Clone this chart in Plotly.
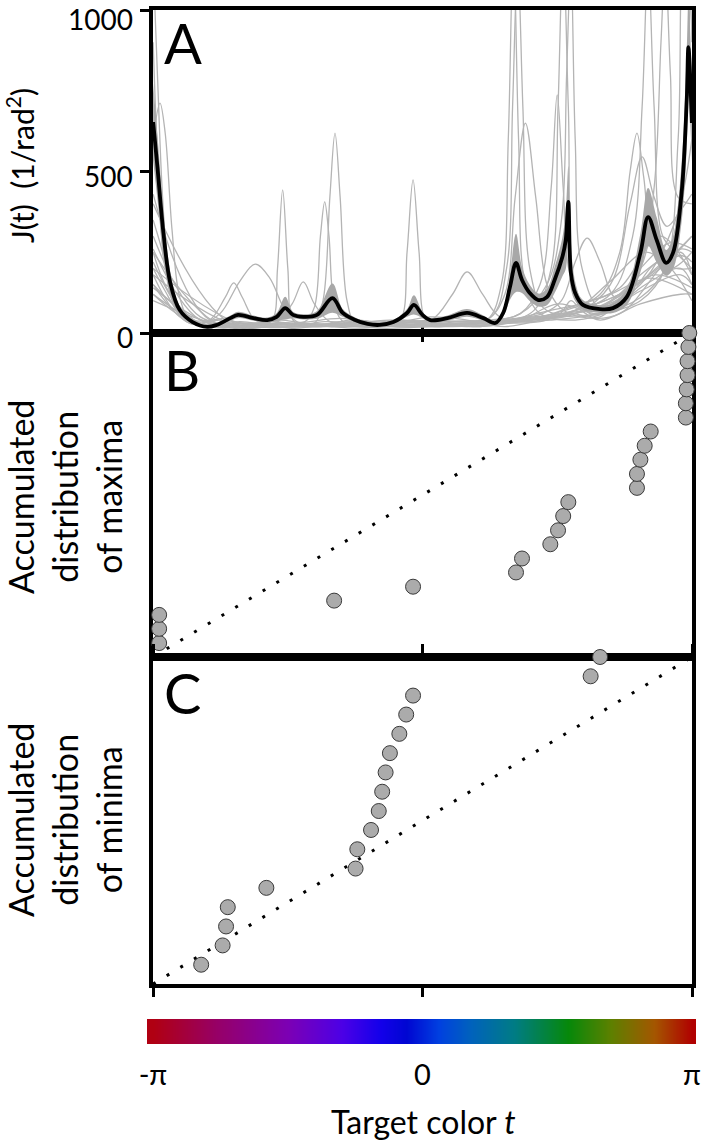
import numpy as np
import plotly.graph_objects as go

PI = np.pi
FONT = "Lato"

# ---------------- Panel A: mean J(t) (black) with error band ----------------
mean_t = [-3.14,-3.09,-3.02,-2.94,-2.83,-2.68,-2.51,-2.40,-2.24,-2.15,-1.97,-1.81,-1.70,-1.60,-1.51,-1.39,
          -1.23,-1.05,-0.93,-0.80,-0.64,-0.50,-0.34,-0.18,-0.10,0.00,0.09,0.29,0.52,0.71,0.85,0.94,1.02,1.09,
          1.16,1.25,1.35,1.45,1.54,1.63,1.67,1.70,1.73,1.78,1.87,2.07,2.22,2.38,2.54,2.63,2.73,2.84,2.92,3.02,
          3.08,3.10,3.14]
mean_j = [653,514,310,155,71,34,19,25,46,56,46,40,50,77,56,50,56,108,62,42,28,25,34,62,87,56,40,46,62,46,31,
          62,143,217,164,124,102,111,164,235,288,406,186,124,87,74,77,111,248,359,288,217,248,433,721,885,650]
mean_sem = [120,100,70,35,12,6,4,5,8,10,8,8,12,35,10,8,12,45,12,8,5,5,6,12,30,10,6,8,12,8,5,12,40,90,40,25,
            20,25,40,60,90,110,50,25,15,12,15,25,60,90,70,40,50,90,150,150,120]

# ---------------- Panel A: individual participants (grey) ----------------
g01_t = [-3.14,-3.06,-3.00,-2.92,-2.83,-2.71,-2.48,-2.13,-1.78,-1.43,-1.08,-0.73,-0.26,0.20,0.67,1.14,1.60,2.07,2.54,2.95,3.14]
g01_j = [600,712,620,320,110,40,20,35,25,30,20,15,25,20,30,45,60,80,150,350,600]
g02_t = [-3.14,-3.09,-3.03,-2.96,-2.87,-2.71,-2.36,-1.95,-1.54,-1.14,-0.73,-0.26,0.20,0.67,1.14,1.58,2.07,2.54,2.83,3.01,3.10,3.14]
g02_j = [1150,800,420,180,70,30,40,25,20,35,30,20,25,20,35,50,60,110,200,450,900,1150]
g03_t = [-3.14,-3.04,-2.94,-2.83,-2.59,-2.24,-1.89,-1.75,-1.69,-1.63,-1.57,-1.51,-1.37,-1.02,-0.50,0.09,0.67,1.25,1.78,2.30,2.77,3.14]
g03_j = [350,260,150,70,30,20,25,40,200,443,200,40,20,30,15,20,30,40,70,120,200,300]
g04_t = [-3.14,-3.00,-2.83,-2.59,-2.36,-2.13,-1.95,-1.78,-1.60,-1.43,-1.19,-0.85,-0.38,0.09,0.52,0.96,1.37,1.78,2.19,2.60,2.95,3.14]
g04_j = [200,130,60,30,60,160,213,170,70,30,20,40,30,50,40,20,40,70,160,250,200,200]
g05_t = [-3.14,-2.94,-2.71,-2.48,-2.30,-2.20,-2.10,-1.95,-1.72,-1.52,-1.39,-1.26,-1.08,-0.73,-0.26,0.20,0.67,1.14,1.58,2.07,2.54,3.01,3.14]
g05_j = [150,80,30,40,110,155,110,40,30,90,158,90,35,25,40,30,20,40,90,60,130,180,150]
g06_t = [-3.14,-2.94,-2.59,-2.13,-1.66,-1.37,-1.26,-1.19,-1.14,-1.09,-1.02,-0.90,-0.50,0.09,0.52,0.96,1.37,1.73,2.07,2.54,3.01,3.14]
g06_j = [250,120,30,20,40,35,80,300,406,300,80,30,20,40,25,30,35,60,50,180,260,250]
g07_t = [-3.14,-2.83,-2.48,-2.01,-1.54,-1.26,-1.16,-1.08,-1.02,-0.96,-0.88,-0.78,-0.50,0.00,0.52,1.02,1.49,1.84,2.30,2.77,3.14]
g07_j = [180,50,25,30,20,30,100,420,619,420,100,30,25,35,20,40,70,90,140,300,180]
g08_t = [-3.14,-2.71,-2.24,-1.78,-1.31,-0.85,-0.45,-0.26,-0.18,-0.11,-0.04,0.04,0.20,0.67,1.14,1.63,2.07,2.54,3.01,3.14]
g08_j = [220,40,20,35,25,30,25,40,250,474,250,40,25,30,40,55,80,160,240,220]
g09_t = [-3.14,-2.59,-2.01,-1.43,-0.85,-0.26,0.32,0.75,0.92,1.00,1.06,1.12,1.20,1.37,1.78,2.19,2.60,3.01,3.14]
g09_j = [150,30,25,20,35,20,30,40,150,600,1200,600,150,60,40,70,150,200,150]
g10_t = [-3.14,-2.48,-1.78,-1.08,-0.38,0.32,0.80,0.98,1.05,1.11,1.17,1.25,1.40,1.60,1.73,1.85,2.07,2.54,3.01,3.14]
g10_j = [120,20,30,25,40,35,50,200,700,1150,700,200,80,60,100,70,40,90,120,120]
g11_t = [-3.14,-2.59,-1.89,-1.19,-0.50,0.20,0.75,0.96,1.08,1.20,1.32,1.45,1.60,1.84,2.30,2.77,3.14]
g11_j = [300,50,30,20,30,25,40,120,420,650,420,150,80,50,60,200,300]
g12_t = [-3.14,-2.36,-1.54,-0.73,0.09,0.90,1.30,1.50,1.58,1.64,1.70,1.78,1.95,2.30,2.77,3.14]
g12_j = [100,25,20,30,20,30,70,200,700,1200,700,150,60,80,220,100]
g13_t = [-3.14,-2.24,-1.31,-0.38,0.52,1.14,1.45,1.62,1.68,1.73,1.78,1.86,2.07,2.54,3.01,3.14]
g13_j = [180,30,25,35,30,60,150,350,800,1150,600,200,80,160,250,180]
g14_t = [-3.14,-2.48,-1.66,-0.85,-0.03,0.75,1.14,1.37,1.50,1.57,1.64,1.72,1.90,2.30,2.71,3.14]
g14_j = [140,30,20,25,35,40,60,150,450,737,450,180,90,120,180,140]
g15_t = [-3.14,-2.59,-1.89,-1.19,-0.50,0.20,0.90,1.40,1.62,1.78,1.92,2.07,2.25,2.54,2.89,3.14]
g15_j = [260,40,30,25,30,20,40,60,100,220,294,220,110,200,280,260]
g16_t = [-3.14,-2.36,-1.43,-0.50,0.43,1.14,1.66,2.07,2.30,2.42,2.50,2.58,2.70,2.89,3.14]
g16_j = [250,25,30,20,30,40,70,120,250,500,619,480,250,200,250]
g17_t = [-3.14,-2.13,-1.08,-0.03,0.90,1.63,2.19,2.45,2.56,2.63,2.70,2.80,2.95,3.14]
g17_j = [200,30,25,35,40,60,120,300,700,1150,700,300,250,200]
g18_t = [-3.14,-2.24,-1.19,-0.15,0.80,1.58,2.19,2.54,2.70,2.78,2.83,2.89,2.98,3.14]
g18_j = [400,30,20,25,35,50,100,200,450,900,1150,800,420,400]
g19_t = [-3.14,-2.48,-1.54,-0.61,0.32,1.14,1.78,2.19,2.42,2.56,2.70,2.85,3.01,3.14]
g19_j = [430,40,30,20,35,40,60,150,400,545,420,330,380,430]
g20_t = [-3.14,-3.08,-3.00,-2.83,-2.36,-1.66,-0.85,0.00,0.80,1.49,2.07,2.54,2.83,2.98,3.04,3.10,3.14]
g20_j = [900,500,200,60,20,30,25,20,30,40,60,100,200,600,1150,1100,900]
g21_t = [-3.14,-2.71,-2.13,-1.54,-0.96,-0.38,0.10,0.35,0.52,0.70,0.90,1.25,1.73,2.19,2.65,3.14]
g21_j = [120,40,50,30,45,30,40,120,189,120,50,40,80,120,170,120]

grey_t = [g01_t,g02_t,g03_t,g04_t,g05_t,g06_t,g07_t,g08_t,g09_t,g10_t,g11_t,g12_t,g13_t,g14_t,g15_t,g16_t,g17_t,g18_t,g19_t,g20_t,g21_t]
grey_j = [g01_j,g02_j,g03_j,g04_j,g05_j,g06_j,g07_j,g08_j,g09_j,g10_j,g11_j,g12_j,g13_j,g14_j,g15_j,g16_j,g17_j,g18_j,g19_j,g20_j,g21_j]

# ---------------- Panel B: accumulated distribution of maxima ----------------
maxima_t = [-3.07,-3.07,-3.07,-1.03,-0.11,1.09,1.16,1.49,1.58,1.64,1.70,2.50,2.50,2.54,2.59,2.66,
            3.07,3.07,3.08,3.09,3.09,3.10,3.11]
maxima_cdf = [0.043,0.087,0.130,0.174,0.217,0.261,0.304,0.348,0.391,0.435,0.478,0.522,0.565,0.609,0.652,
              0.696,0.739,0.783,0.826,0.870,0.913,0.957,1.000]

# ---------------- Panel C: accumulated distribution of minima ----------------
minima_t = [-2.58,-2.33,-2.29,-2.27,-1.82,-0.78,-0.76,-0.60,-0.51,-0.47,-0.43,-0.38,-0.27,-0.19,-0.11,1.96,2.07]
minima_cdf = [0.059,0.118,0.176,0.235,0.294,0.353,0.412,0.471,0.529,0.588,0.647,0.706,0.765,0.824,0.882,0.941,1.000]

# uniform reference (diagonal)
diag_t = [-PI, PI]
diag_cdf = [0.0, 1.0]

# y ticks of panel A
j_ticks = [0, 500, 1000]
j_tick_text = ["0", "500", "1000"]

# colour wheel bar
bar_t = [-PI, PI]
hue_scale = [
    [0.00, "#b00012"], [0.12, "#960068"], [0.25, "#7c00b4"], [0.35, "#4c00e6"],
    [0.42, "#1400ea"], [0.47, "#0006d2"], [0.53, "#0040e0"], [0.59, "#0062bc"],
    [0.67, "#007c84"], [0.77, "#06880a"], [0.85, "#5e8000"], [0.93, "#a45600"],
    [1.00, "#b00000"],
]

xticks_main = [-PI, 0, PI]
xtick_text = ["-π", "0", "π"]

W, H = 708, 1142
def px_x(p): return p / W
def px_y(p): return 1 - p / H

XDOM = [px_x(153), px_x(692)]
A_DOM = [px_y(333), px_y(10)]
B_DOM = [px_y(657), px_y(333)]
C_DOM = [px_y(984), px_y(657)]
BAR_DOM = [px_y(1044), px_y(1019)]

fig = go.Figure()

GREY = "#b4b4b4"
for tt, jj in zip(grey_t, grey_j):
    fig.add_trace(go.Scatter(x=tt, y=jj, mode="lines", line=dict(color=GREY, width=1.3, shape="spline"),
                             xaxis="x", yaxis="y", hoverinfo="skip"))

upper = [j + s for j, s in zip(mean_j, mean_sem)]
lower = [max(j - s, 0) for j, s in zip(mean_j, mean_sem)]
fig.add_trace(go.Scatter(x=mean_t, y=lower, mode="lines", line=dict(color="#a8a8a8", width=0, shape="spline"),
                         xaxis="x", yaxis="y", hoverinfo="skip"))
fig.add_trace(go.Scatter(x=mean_t, y=upper, mode="lines", line=dict(color="#a8a8a8", width=0, shape="spline"),
                         fill="tonexty", fillcolor="#a8a8a8", xaxis="x", yaxis="y", hoverinfo="skip"))
fig.add_trace(go.Scatter(x=mean_t, y=mean_j, mode="lines", line=dict(color="black", width=3.8, shape="spline"),
                         xaxis="x", yaxis="y"))

MARK = dict(size=15, color="#ababab", line=dict(color="#3a3a3a", width=1))
DOTS = dict(color="black", width=3, dash="3px,13px")

fig.add_trace(go.Scatter(x=diag_t, y=diag_cdf, mode="lines", line=DOTS, xaxis="x2", yaxis="y2"))
fig.add_trace(go.Scatter(x=maxima_t, y=maxima_cdf, mode="markers", marker=MARK, cliponaxis=False,
                         xaxis="x2", yaxis="y2"))
fig.add_trace(go.Scatter(x=diag_t, y=diag_cdf, mode="lines", line=DOTS, xaxis="x3", yaxis="y3"))
fig.add_trace(go.Scatter(x=minima_t, y=minima_cdf, mode="markers", marker=MARK, cliponaxis=False,
                         xaxis="x3", yaxis="y3"))

fig.add_trace(go.Heatmap(x=bar_t, y=[0, 1], z=[bar_t, bar_t], zmin=-PI, zmax=PI, zsmooth="best",
                         colorscale=hue_scale, showscale=False, xaxis="x4", yaxis="y4", hoverinfo="skip"))

LW = 3.6
common_x = dict(domain=XDOM, range=[-PI, PI], showgrid=False, zeroline=False, showline=True,
                linecolor="black", linewidth=LW, layer="below traces", showticklabels=False,
                tickvals=[0], tickcolor="black", tickwidth=3, ticklen=9, automargin=False)
common_y = dict(showgrid=False, zeroline=False, showline=True, linecolor="black", linewidth=LW,
                mirror=True, layer="below traces", automargin=False)

bar_range = [-PI - 0.07, PI + 0.047]

fig.update_layout(
    template="none",
    width=W, height=H, margin=dict(l=0, r=0, t=0, b=0, pad=0, autoexpand=False),
    paper_bgcolor="white", plot_bgcolor="white", showlegend=False,
    font=dict(family=FONT, color="black"),
    xaxis=dict(common_x, anchor="y", ticks="inside", mirror=True),
    yaxis=dict(common_y, domain=A_DOM, anchor="x", range=[0, 1000.01], tickvals=j_ticks,
               ticks="outside", ticklen=9, tickwidth=3, tickcolor="black", showticklabels=False),
    xaxis2=dict(common_x, anchor="y2", ticks="inside", mirror="ticks"),
    yaxis2=dict(common_y, domain=B_DOM, anchor="x2", range=[0, 1], showticklabels=False, ticks=""),
    xaxis3=dict(common_x, anchor="y3", ticks="outside", mirror="ticks", tickvals=xticks_main),
    yaxis3=dict(common_y, domain=C_DOM, anchor="x3", range=[0, 1], showticklabels=False, ticks=""),
    xaxis4=dict(domain=[px_x(147), px_x(696)], anchor="y4", range=bar_range, showgrid=False,
                zeroline=False, showline=False, ticks="", tickvals=xticks_main, ticktext=xtick_text,
                tickfont=dict(size=29, family=FONT), ticklabelstandoff=11, ticklabeloverflow="allow",
                automargin=False),
    yaxis4=dict(domain=BAR_DOM, anchor="x4", range=[0, 1], showgrid=False, zeroline=False,
                showline=False, showticklabels=False, ticks="", automargin=False),
)

ann = []
# y tick labels of panel A (placed at the tick values, slightly lowered as in the original)
for v, txt in zip(j_ticks, j_tick_text):
    ann.append(dict(text=txt, x=px_x(135), xref="paper", y=v, yref="y", xanchor="right", yanchor="middle",
                    yshift=-9 if v == 1000 else -4, showarrow=False, font=dict(size=28, family=FONT)))
for lab, yc in [("A", 43), ("B", 369), ("C", 692)]:
    ann.append(dict(text=lab, x=px_x(162), y=px_y(yc), xref="paper", yref="paper", xanchor="left",
                    yanchor="middle", showarrow=False, font=dict(size=56, family=FONT)))
ann.append(dict(text="J(t)\u00a0\u00a0(1/rad<sup>2</sup>)", x=px_x(20), y=px_y(166), xref="paper",
                yref="paper", xanchor="center", yanchor="middle", textangle=-90, showarrow=False,
                font=dict(size=30, family=FONT)))
ann.append(dict(text="Accumulated<br>distribution<br>of maxima", x=px_x(64), y=px_y(497), xref="paper",
                yref="paper", xanchor="center", yanchor="middle", textangle=-90, showarrow=False,
                font=dict(size=34, family=FONT)))
ann.append(dict(text="Accumulated<br>distribution<br>of minima", x=px_x(64), y=px_y(820), xref="paper",
                yref="paper", xanchor="center", yanchor="middle", textangle=-90, showarrow=False,
                font=dict(size=34, family=FONT)))
ann.append(dict(text="Target color <i>t</i>", x=px_x(423), y=px_y(1121), xref="paper", yref="paper",
                xanchor="center", yanchor="middle", showarrow=False, font=dict(size=32, family=FONT)))
fig.update_layout(annotations=ann)

fig.write_html("out.html", config={"displayModeBar": False},
               post_script="document.body.style.margin='0px';")
